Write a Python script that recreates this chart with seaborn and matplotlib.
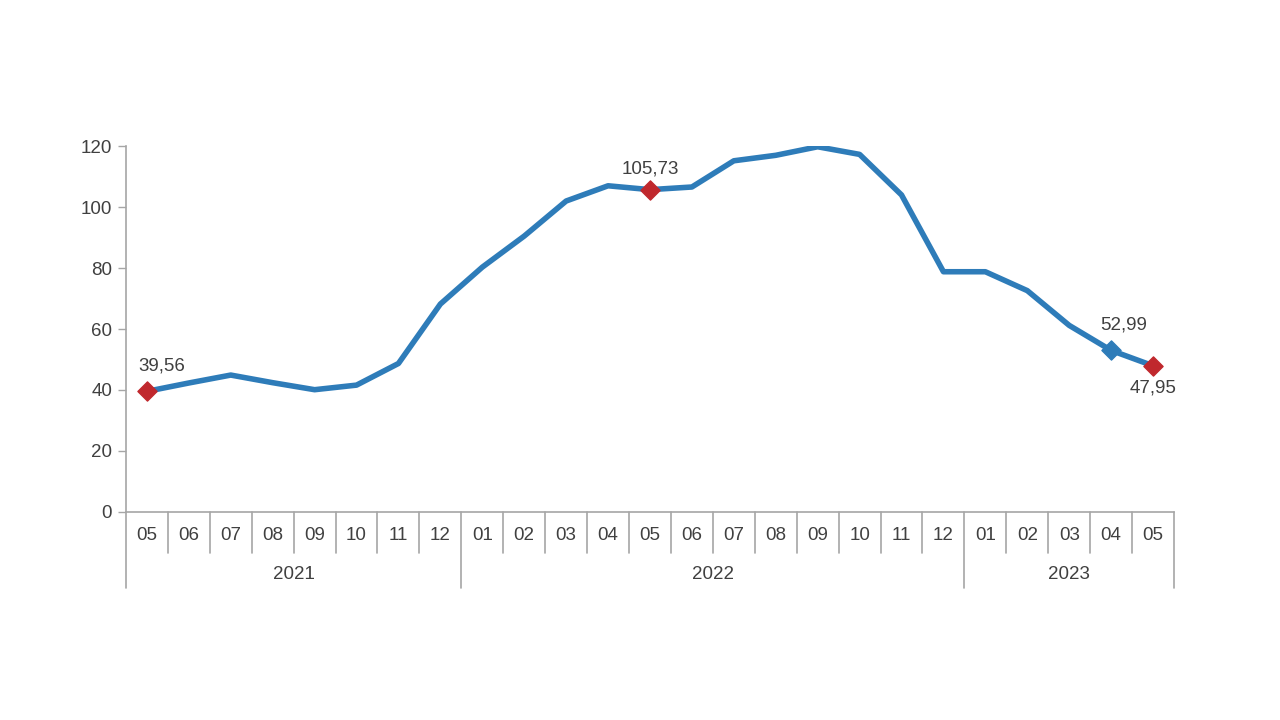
import matplotlib
matplotlib.use("Agg")
import matplotlib.pyplot as plt
import matplotlib.transforms as mtransforms
import pandas as pd
import seaborn as sns

years = ["2021"] * 8 + ["2022"] * 12 + ["2023"] * 5
months = ["05", "06", "07", "08", "09", "10", "11", "12",
          "01", "02", "03", "04", "05", "06", "07", "08", "09", "10", "11", "12",
          "01", "02", "03", "04", "05"]
values = [39.56, 42.3, 44.9, 42.4, 40.1, 41.6, 48.7, 68.2,
          80.3, 90.5, 102.0, 107.0, 105.73, 106.6, 115.2, 117.0, 119.8, 117.3, 104.0, 78.8,
          78.8, 72.6, 61.2, 52.99, 47.95]
highlight_red = [0, 12, 24]
highlight_blue = [23]

df = pd.DataFrame({"year": years, "month": months, "value": values})
df["pos"] = range(len(df))

sns.set_style("white")
plt.rcParams["font.family"] = ["Liberation Sans", "DejaVu Sans"]

line_col = "#2e7cb9"
red_col = "#c0282d"
txt_col = "#404040"
grid_col = "#a6a6a6"
fs = 13.5

fig = plt.figure(figsize=(12.8, 7.2), dpi=100)
ax = fig.add_axes([0.0984, 0.289, 0.8188, 0.508])

sns.lineplot(data=df, x="pos", y="value", color=line_col, linewidth=4, ax=ax)
red = df.iloc[highlight_red]
blue = df.iloc[highlight_blue]
ax.scatter(red["pos"], red["value"], marker="D", s=95, color=red_col, zorder=5)
ax.scatter(blue["pos"], blue["value"], marker="D", s=95, color=line_col, zorder=5)

ax.set_xlim(-0.5, len(df) - 0.5)
ax.set_ylim(0, 120)
ax.set_yticks(range(0, 121, 20))
ax.tick_params(axis="y", left=True, length=6, width=1, color=grid_col,
               labelsize=fs, labelcolor=txt_col, pad=4)
ax.set_xticks([])
ax.set_xlabel("")
ax.set_ylabel("")
for s in ["top", "right"]:
    ax.spines[s].set_visible(False)
for s in ["left", "bottom"]:
    ax.spines[s].set_color(grid_col)
    ax.spines[s].set_linewidth(1.2)

# labels of highlighted points
fmt = lambda v: f"{v:.2f}".replace(".", ",")
ax.annotate(fmt(values[0]), (0, values[0]), xytext=(11, 12), textcoords="offset points",
            ha="center", va="bottom", fontsize=fs, color=txt_col)
ax.annotate(fmt(values[12]), (12, values[12]), xytext=(0, 9), textcoords="offset points",
            ha="center", va="bottom", fontsize=fs, color=txt_col)
ax.annotate(fmt(values[23]), (23, values[23]), xytext=(9, 12), textcoords="offset points",
            ha="center", va="bottom", fontsize=fs, color=txt_col)
ax.annotate(fmt(values[24]), (24, values[24]), xytext=(0, -10), textcoords="offset points",
            ha="center", va="top", fontsize=fs, color=txt_col)

# two-level category axis
trans = mtransforms.blended_transform_factory(ax.transData, ax.transAxes)
n = len(df)
for i in range(n + 1):
    x = i - 0.5
    boundary = i == 0 or i == n or df["year"].iloc[i] != df["year"].iloc[i - 1]
    y_end = -0.208 if boundary else -0.113
    ax.plot([x, x], [0, y_end], transform=trans, color=grid_col, lw=1.2, clip_on=False)
for i, m in enumerate(months):
    ax.text(i, -0.065, m, transform=trans, ha="center", va="center",
            fontsize=fs, color=txt_col)
for y, grp in df.groupby("year"):
    ax.text(grp["pos"].mean(), -0.171, y, transform=trans, ha="center", va="center",
            fontsize=fs, color=txt_col)

fig.savefig("out.png", dpi=100, facecolor="white")
